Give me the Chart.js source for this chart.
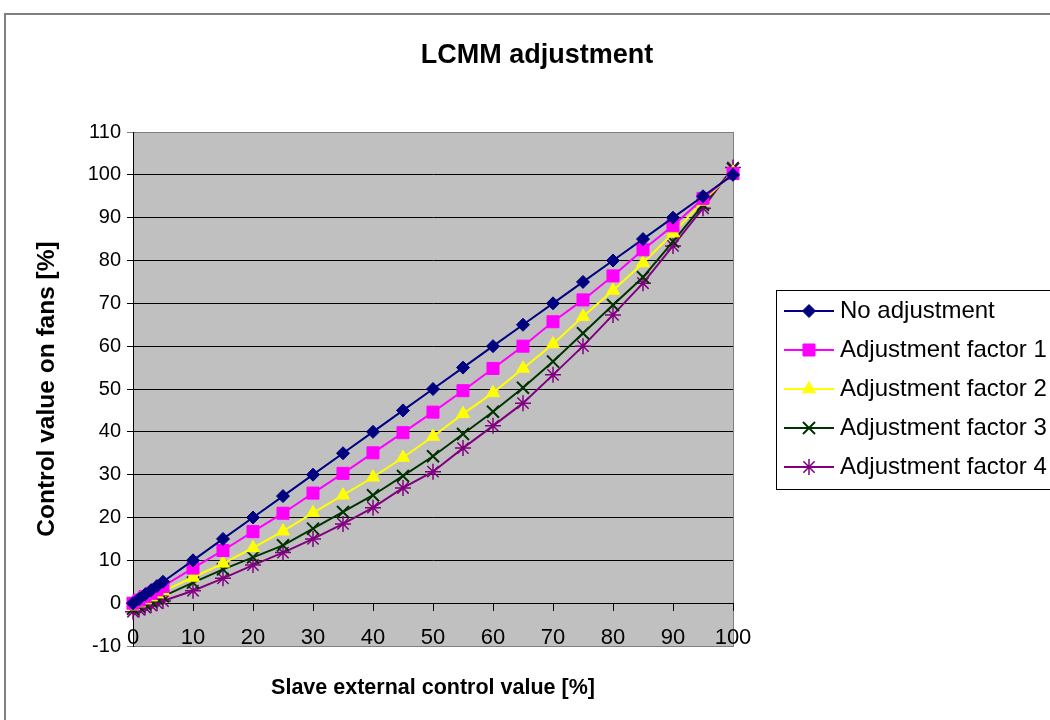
<!DOCTYPE html>
<html>
<head>
<meta charset="utf-8">
<script src="https://cdn.jsdelivr.net/npm/chart.js@4.4.1/dist/chart.umd.min.js"></script>
<style>
  html, body { margin: 0; padding: 0; background: #fff; }
  #wrap { width: 1050px; height: 720px; position: relative; }
</style>
</head>
<body>
<div id="wrap"><canvas id="c" width="1050" height="720"></canvas></div>
<script>
// ---- data ----
const xValues = [0, 1, 2, 3, 4, 5, 10, 15, 20, 25, 30, 35, 40, 45, 50, 55, 60, 65, 70, 75, 80, 85, 90, 95, 100];
const seriesNames = ['No adjustment', 'Adjustment factor 1', 'Adjustment factor 2', 'Adjustment factor 3', 'Adjustment factor 4'];
const noAdjustment = [0, 1, 2, 3, 4, 5, 10, 15, 20, 25, 30, 35, 40, 45, 50, 55, 60, 65, 70, 75, 80, 85, 90, 95, 100];
const factor1 = [0, 0.7, 1.5, 2.3, 3.1, 3.9, 8.2, 12.3, 16.7, 21.0, 25.7, 30.3, 35.1, 39.8, 44.6, 49.6, 54.8, 60.0, 65.7, 70.8, 76.4, 82.5, 88.1, 94.5, 100.3];
const factor2 = [-0.7, 0, 0.7, 1.4, 2.1, 2.8, 6.0, 9.3, 12.9, 16.8, 21.1, 25.2, 29.4, 34.0, 38.9, 44.2, 49.1, 54.8, 60.5, 66.9, 73.0, 79.4, 86.4, 93.8, 100.6];
const factor3 = [-1.3, -0.8, -0.2, 0.4, 1.0, 1.6, 4.8, 7.9, 10.7, 13.5, 17.4, 21.3, 25.2, 29.7, 34.3, 39.5, 44.7, 50.3, 56.4, 63.0, 69.6, 76.1, 84.4, 93.0, 101.4];
const factor4 = [-2.0, -1.5, -1.0, -0.5, 0, 0.5, 2.9, 5.8, 8.9, 11.8, 15.0, 18.5, 22.3, 26.9, 30.7, 36.2, 41.4, 46.7, 53.3, 60.0, 67.3, 74.7, 83.4, 92.2, 101.7];
const yTickMin = -10, yTickMax = 110, yTickStep = 10;
const xTickMin = 0, xTickMax = 100, xTickStep = 10;

const FONT = '"Liberation Sans", Arial, sans-serif';
const styles = [
  { color: '#000080', pointStyle: 'rectRot', radius: 6.5, pbw: 1 },
  { color: '#FF00FF', pointStyle: 'rect', radius: 8.5, pbw: 1 },
  { color: '#FFFF00', pointStyle: 'triangle', radius: 7.5, pbw: 1 },
  { color: '#003300', pointStyle: 'crossRot', radius: 8.5, pbw: 2 },
  { color: '#800080', pointStyle: 'star', radius: 8, pbw: 1.5 }
];
const allSeries = [noAdjustment, factor1, factor2, factor3, factor4];

function legendImage(st) {
  const c = document.createElement('canvas');
  c.width = 50; c.height = 24;
  const g = c.getContext('2d');
  g.strokeStyle = st.color; g.lineWidth = 2;
  g.beginPath(); g.moveTo(0, 12); g.lineTo(50, 12); g.stroke();
  g.fillStyle = st.color; g.strokeStyle = st.color; g.lineWidth = st.pbw;
  Chart.helpers.drawPoint(g, { pointStyle: st.pointStyle, radius: st.radius, borderWidth: st.pbw, rotation: 0 }, 25, 12);
  return c;
}

const datasets = allSeries.map((arr, i) => ({
  label: seriesNames[i],
  data: xValues.map((x, j) => ({ x: x, y: arr[j] })),
  borderColor: styles[i].color,
  backgroundColor: styles[i].color,
  borderWidth: 2,
  pointStyle: styles[i].pointStyle,
  pointRadius: styles[i].radius,
  pointBorderWidth: styles[i].pbw,
  pointBackgroundColor: styles[i].color,
  pointBorderColor: styles[i].color,
  tension: 0,
  clip: false
}));

const bgPlugin = {
  id: 'bgPlugin',
  beforeDraw(chart) {
    const { ctx, chartArea: a, width, height } = chart;
    ctx.save();
    ctx.fillStyle = '#ffffff';
    ctx.fillRect(0, 0, width, height);
    ctx.strokeStyle = '#808080';
    ctx.lineWidth = 2;
    ctx.strokeRect(5, 14, width + 40, height + 40);
    ctx.fillStyle = '#C0C0C0';
    ctx.fillRect(a.left, a.top, a.right - a.left, a.bottom - a.top);
    ctx.strokeStyle = '#808080';
    ctx.lineWidth = 1;
    ctx.strokeRect(a.left + 0.5, a.top + 0.5, a.right - a.left, a.bottom - a.top);
    // legend frame
    const lg = chart.legend;
    if (lg && lg.legendHitBoxes && lg.legendHitBoxes.length) {
      const hb = lg.legendHitBoxes;
      const l = hb[0].left - 13.5;
      const t = hb[0].top - 8.5;
      const last = hb[hb.length - 1];
      const b = last.top + last.height + 10.5;
      ctx.fillStyle = '#ffffff';
      ctx.fillRect(l, t, width - l + 20, b - t);
      ctx.strokeStyle = '#000000';
      ctx.lineWidth = 1;
      ctx.strokeRect(l, t, width - l + 20, b - t);
    }
    ctx.restore();
  }
};

const chart = new Chart(document.getElementById('c'), {
  type: 'line',
  data: { datasets: datasets },
  plugins: [bgPlugin],
  options: {
    responsive: false,
    animation: false,
    layout: { padding: { left: 24, right: 0, top: 0, bottom: 74 } },
    plugins: {
      title: {
        display: true, text: 'LCMM adjustment', color: '#000',
        font: { family: FONT, size: 27, weight: 'bold' },
        padding: { top: 39, bottom: 60.6 }
      },
      legend: {
        position: 'right', align: 'center', maxWidth: 275, fullSize: false,
        labels: {
          usePointStyle: true, pointStyleWidth: 38, padding: 15, color: '#000',
          font: { family: FONT, size: 24 },
          generateLabels: (ch) => ch.data.datasets.map((ds, i) => ({
            text: ds.label, fillStyle: styles[i].color, strokeStyle: styles[i].color,
            lineWidth: 0, pointStyle: legendImage(styles[i]), hidden: false, datasetIndex: i, fontColor: '#000'
          }))
        }
      },
      tooltip: { enabled: false }
    },
    scales: {
      x: {
        type: 'linear', position: { y: 0 }, min: xTickMin, max: xTickMax,
        ticks: { stepSize: xTickStep, color: '#000', font: { family: FONT, size: 22 }, padding: 15, maxRotation: 0 },
        grid: { drawOnChartArea: false, drawTicks: true, tickLength: 7, color: '#000' },
        border: { display: true, color: '#000', width: 1 },
        title: { display: true, text: 'Slave external control value [%]', color: '#000', font: { family: FONT, size: 21.5, weight: 'bold' }, padding: 0 },
        afterFit: (s) => { s.height = 98; }
      },
      y: {
        type: 'linear', position: 'left', min: yTickMin, max: yTickMax,
        ticks: { stepSize: yTickStep, color: '#000', font: { family: FONT, size: 20 }, padding: 6 },
        grid: {
          color: (c) => (c.tick && (c.tick.value === yTickMin || c.tick.value === yTickMax)) ? '#808080' : '#000000',
          tickLength: 6, drawTicks: true
        },
        border: { display: true, color: '#000', width: 1 },
        title: { display: true, text: 'Control value on fans [%]', color: '#000', font: { family: FONT, size: 24.5, weight: 'bold' }, padding: { top: 9, bottom: 0 } },
        afterFit: (s) => { s.width = 109; }
      },
      y2: {
        type: 'linear', position: 'right', display: true,
        ticks: { display: false }, grid: { display: false }, border: { display: false },
        afterFit: (s) => { s.width = 42; }
      }
    }
  }
});
</script>
</body>
</html>
